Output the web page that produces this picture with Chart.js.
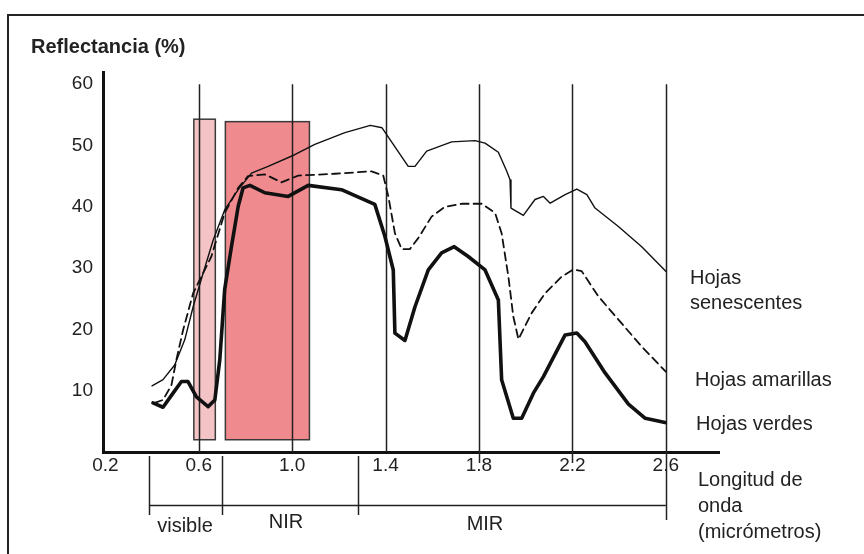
<!DOCTYPE html>
<html lang="es">
<head>
<meta charset="utf-8">
<title>Reflectancia de hojas</title>
<script src="https://cdn.jsdelivr.net/npm/chart.js@4.4.1/dist/chart.umd.min.js"></script>
<style>
  html, body { margin: 0; padding: 0; background: #fff; overflow: hidden; }
  #wrap { position: relative; width: 864px; height: 554px; overflow: hidden; font-family: 'Liberation Sans', Arial, sans-serif; color: #222; }
  #frame { position: absolute; left: 7px; top: 14px; width: 900px; height: 600px; border-top: 2px solid #222; border-left: 2px solid #222; }
  canvas { position: absolute; left: 0; top: 0; }
  .lbl { position: absolute; font-size: 20px; line-height: 26px; white-space: nowrap; }
  .title { font-weight: bold; }
  .reg { text-align: center; width: 120px; }
</style>
</head>
<body>
<div id="wrap">
  <div id="frame"></div>
  <canvas id="chart" width="864" height="554"></canvas>
  <div class="lbl title" style="left:31px; top:33px;">Reflectancia (%)</div>
  <div class="lbl" style="left:690px; top:265px; line-height:25px;">Hojas<br>senescentes</div>
  <div class="lbl" style="left:695px; top:366px;">Hojas amarillas</div>
  <div class="lbl" style="left:696px; top:410px;">Hojas verdes</div>
  <div class="lbl" style="left:698px; top:466px;">Longitud de<br>onda<br>(micrómetros)</div>
  <div class="lbl reg" style="left:125px; top:512px;">visible</div>
  <div class="lbl reg" style="left:226px; top:508px;">NIR</div>
  <div class="lbl reg" style="left:425px; top:510px;">MIR</div>
</div>
<script>
// === DATOS ===
const xTicks = [0.2, 0.6, 1.0, 1.4, 1.8, 2.2, 2.6];
const yTicks = [10, 20, 30, 40, 50, 60];
const gridX = [0.6, 1.0, 1.4, 1.8, 2.2, 2.6];

// Hojas senescentes (línea fina)
const senX = [0.400, 0.447, 0.497, 0.540, 0.576, 0.619, 0.662, 0.711, 0.769, 0.826, 0.897, 1.011, 1.097, 1.226, 1.335, 1.385,
              1.497, 1.526, 1.576, 1.683, 1.783, 1.826, 1.883, 1.919, 1.933, 1.937, 1.990, 2.040, 2.076, 2.105, 2.169, 2.219,
              2.262, 2.297, 2.397, 2.497, 2.600];
const senY = [10.8, 11.8, 14.2, 18.3, 23.7, 29.2, 34.6, 39.5, 42.8, 45.5, 46.6, 48.5, 50.2, 52.1, 53.3, 52.9,
              46.6, 46.6, 49.1, 50.6, 50.8, 50.4, 48.9, 45.8, 44.4, 39.8, 38.6, 41.2, 41.7, 40.6, 42.0, 42.9,
              42.0, 39.8, 36.8, 33.5, 29.5];

// Hojas amarillas (discontinua)
const amaX = [0.411, 0.447, 0.483, 0.504, 0.533, 0.576, 0.611, 0.654, 0.683, 0.711, 0.769, 0.811, 0.883, 0.954, 1.026, 1.183,
              1.340, 1.390, 1.412, 1.440, 1.469, 1.504, 1.540, 1.597, 1.654, 1.726, 1.812, 1.869, 1.897, 1.926, 1.947, 1.969,
              2.026, 2.083, 2.154, 2.204, 2.240, 2.311, 2.397, 2.497, 2.600];
const amaY = [8.0, 8.5, 10.9, 15.0, 19.9, 25.9, 28.6, 31.9, 35.5, 39.0, 43.1, 45.0, 45.3, 44.0, 45.1, 45.4,
              45.8, 45.1, 41.7, 35.7, 33.1, 33.1, 34.9, 38.4, 40.0, 40.5, 40.5, 39.0, 35.7, 28.6, 22.1, 18.4,
              22.7, 25.9, 28.6, 29.8, 29.5, 25.4, 21.6, 17.2, 13.1];

// Hojas verdes (línea gruesa)
const verX = [0.404, 0.447, 0.490, 0.526, 0.554, 0.590, 0.640, 0.669, 0.690, 0.711, 0.740, 0.769, 0.790, 0.819, 0.883, 0.983,
              1.069, 1.211, 1.354, 1.397, 1.433, 1.440, 1.483, 1.526, 1.583, 1.640, 1.694, 1.754, 1.826, 1.883, 1.897, 1.947,
              1.983, 2.033, 2.076, 2.169, 2.219, 2.254, 2.340, 2.440, 2.512, 2.597];
const verY = [8.0, 7.3, 9.6, 11.5, 11.5, 9.0, 7.4, 8.5, 15.0, 26.5, 33.5, 40.1, 43.1, 43.5, 42.3, 41.7,
              43.5, 42.8, 40.4, 35.2, 29.7, 19.4, 18.2, 23.7, 29.7, 32.5, 33.5, 31.9, 29.7, 24.8, 11.8, 5.5,
              5.5, 9.6, 12.3, 19.1, 19.4, 18.0, 12.9, 7.8, 5.5, 4.8];

// Bandas rosadas
const bandX0 = [0.579, 0.714];
const bandX1 = [0.671, 1.074];
const bandTop = [54.3, 53.9];
const bandBottom = [2.0, 2.0];
const bandColors = ['#f4c3c6', '#ef8a8e'];

// Separadores de regiones bajo el eje
const regionX = [0.387, 0.700, 1.282, 2.600];
const tickBelowX = [1.8, 2.2];

const FONT = "'Liberation Sans', Arial, sans-serif";

function pts(xs, ys) { return xs.map((v, i) => ({ x: v, y: ys[i] })); }

const decorPlugin = {
    id: 'decor',
    beforeDatasetsDraw(chart) {
        const { ctx, scales: { x, y } } = chart;
        ctx.save();
        // bandas
        bandX0.forEach((x0, i) => {
            const l = x.getPixelForValue(x0), r = x.getPixelForValue(bandX1[i]);
            const t = y.getPixelForValue(bandTop[i]), b = y.getPixelForValue(bandBottom[i]);
            ctx.fillStyle = bandColors[i];
            ctx.fillRect(l, t, r - l, b - t);
            ctx.strokeStyle = '#3a3a3a';
            ctx.lineWidth = 1.5;
            ctx.strokeRect(l, t, r - l, b - t);
        });
        // líneas verticales
        ctx.strokeStyle = '#222';
        ctx.lineWidth = 1.5;
        gridX.forEach(v => {
            const px = Math.round(x.getPixelForValue(v)) + 0.5;
            ctx.beginPath();
            ctx.moveTo(px, y.getPixelForValue(60));
            ctx.lineTo(px, y.getPixelForValue(0));
            ctx.stroke();
        });
        ctx.restore();
    },
    afterDraw(chart) {
        const { ctx, scales: { x, y } } = chart;
        const base = y.getPixelForValue(0);
        ctx.save();
        ctx.strokeStyle = '#222';
        ctx.lineWidth = 1.5;
        regionX.forEach((v, i) => {
            const px = Math.round(x.getPixelForValue(v)) + 0.5;
            ctx.beginPath();
            ctx.moveTo(px, i === regionX.length - 1 ? base : base + 4);
            ctx.lineTo(px, i === regionX.length - 1 ? base + 68 : base + 63);
            ctx.stroke();
        });
        ctx.beginPath();
        ctx.moveTo(x.getPixelForValue(regionX[0]), base + 53.5);
        ctx.lineTo(x.getPixelForValue(regionX[regionX.length - 1]), base + 53.5);
        ctx.stroke();
        tickBelowX.forEach(v => {
            const px = Math.round(x.getPixelForValue(v)) + 0.5;
            ctx.beginPath();
            ctx.moveTo(px, base);
            ctx.lineTo(px, base + 11);
            ctx.stroke();
        });
        ctx.restore();
    }
};

new Chart(document.getElementById('chart'), {
    type: 'line',
    data: {
        datasets: [
            { label: 'Hojas senescentes', data: pts(senX, senY), borderColor: '#111', borderWidth: 1.4 },
            { label: 'Hojas amarillas', data: pts(amaX, amaY), borderColor: '#111', borderWidth: 1.8, borderDash: [8, 5] },
            { label: 'Hojas verdes', data: pts(verX, verY), borderColor: '#111', borderWidth: 3.6 }
        ]
    },
    options: {
        responsive: false,
        animation: false,
        devicePixelRatio: 1,
        layout: { padding: { top: 72, right: 144.5, left: 0, bottom: 0 } },
        elements: { point: { radius: 0 }, line: { tension: 0, fill: false, borderJoinStyle: 'round', borderCapStyle: 'round' } },
        plugins: { legend: { display: false }, tooltip: { enabled: false }, title: { display: false } },
        scales: {
            x: {
                type: 'linear', min: 0.19, max: 2.83,
                grid: { display: false, drawTicks: false },
                border: { color: '#111', width: 3 },
                afterBuildTicks: s => { s.ticks = xTicks.map(v => ({ value: v })); },
                afterFit: s => { s.height = 102; },
                ticks: { font: { family: FONT, size: 19 }, color: '#222', padding: 2, maxRotation: 0, autoSkip: false,
                         callback: v => Number(v).toFixed(1) }
            },
            y: {
                type: 'linear', min: 0, max: 62,
                grid: { display: false, drawTicks: false },
                border: { color: '#111', width: 3 },
                afterBuildTicks: s => { s.ticks = yTicks.map(v => ({ value: v })); },
                afterFit: s => { s.width = 103; },
                ticks: { font: { family: FONT, size: 19 }, color: '#222', padding: 10, callback: v => String(v) }
            }
        }
    },
    plugins: [decorPlugin]
});
</script>
</body>
</html>
